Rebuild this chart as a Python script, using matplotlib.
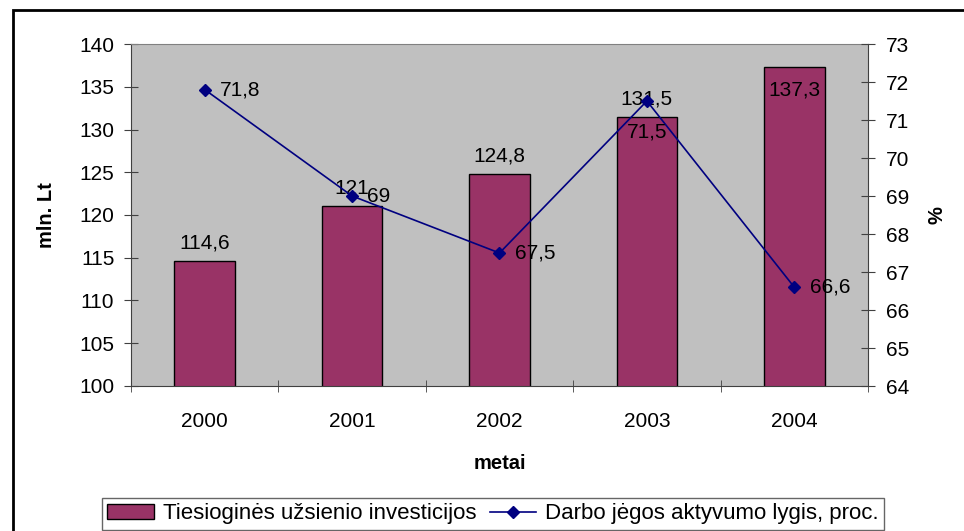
import numpy as np
import matplotlib.pyplot as plt
from matplotlib.patches import Rectangle

plt.rcParams['font.family'] = ['Liberation Sans', 'DejaVu Sans']

metai = ['2000', '2001', '2002', '2003', '2004']
investicijos = [114.6, 121, 124.8, 131.5, 137.3]
aktyvumas = [71.8, 69, 67.5, 71.5, 66.6]
inv_labels = ['114,6', '121', '124,8', '131,5', '137,3']
akt_labels = ['71,8', '69', '67,5', '71,5', '66,6']

fig = plt.figure(figsize=(9.64, 5.31), dpi=100)
ax = fig.add_axes([131 / 964, 1 - 386 / 531, (868 - 131) / 964, (386 - 44) / 531])
ax.set_facecolor('#C0C0C0')

x = np.arange(len(metai))
bars = ax.bar(x, investicijos, width=0.41, color='#993366', edgecolor='black',
              linewidth=1, label='Tiesioginės užsienio investicijos', zorder=2)
ax.set_xlim(-0.5, 4.5)
ax.set_ylim(100, 140)
ax.set_yticks(np.arange(100, 141, 5))
ax.set_xticks(x)
ax.set_xticklabels(metai)
ax.set_xticks(np.arange(-0.5, 5, 1), minor=True)
ax.tick_params(axis='x', which='major', length=0, pad=19, labelsize=15)
ax.tick_params(axis='x', which='minor', length=8, direction='inout', color='#404040')
ax.tick_params(axis='y', length=10, direction='inout', color='#404040', labelsize=15, pad=7)
ax.set_xlabel('metai', fontsize=14.5, fontweight='bold', labelpad=16)
ax.set_ylabel('mln. Lt', fontsize=14.5, fontweight='bold', labelpad=17)
for s in ['left', 'bottom', 'right']:
    ax.spines[s].set_color('#404040')
ax.spines['top'].set_color('#808080')

for i, v in enumerate(investicijos):
    if i == 4:
        ax.annotate(inv_labels[i], (x[i], v), xytext=(0, -23), textcoords='offset points',
                    ha='center', va='bottom', fontsize=15, zorder=5)
    else:
        ax.annotate(inv_labels[i], (x[i], v), xytext=(0, 6), textcoords='offset points',
                    ha='center', va='bottom', fontsize=15, zorder=5)

ax2 = ax.twinx()
ax2.plot(x, aktyvumas, color='#000080', linewidth=1.2, marker='D', markersize=6,
         label='Darbo jėgos aktyvumo lygis, proc.', zorder=3)
ax2.set_ylim(64, 73)
ax2.set_yticks(np.arange(64, 74, 1))
ax2.tick_params(axis='y', length=10, direction='inout', color='#404040', labelsize=15, pad=8)
ax2.set_ylabel('%', fontsize=14.5, fontweight='bold', labelpad=13)
for s in ax2.spines.values():
    s.set_visible(False)

for i, v in enumerate(aktyvumas):
    if i == 3:
        ax2.annotate(akt_labels[i], (x[i], v), xytext=(0, -22), textcoords='offset points',
                     ha='center', va='center', fontsize=15)
    else:
        ax2.annotate(akt_labels[i], (x[i], v), xytext=(11, 0), textcoords='offset points',
                     ha='left', va='center', fontsize=15)

h1, l1 = ax.get_legend_handles_labels()
h2, l2 = ax2.get_legend_handles_labels()
leg = fig.legend(h1 + h2, l1 + l2, loc='lower center', bbox_to_anchor=(0.5115, 1 / 531), ncol=2,
                 fontsize=16, frameon=True, fancybox=False, edgecolor='#404040',
                 handlelength=2.1, columnspacing=0.6, handletextpad=0.4, borderpad=0.25,
                 borderaxespad=0)
leg.get_frame().set_linewidth(1)

fig.patches.append(Rectangle((13 / 964, -0.1), 1.1, 1 - 10 / 531 + 0.1,
                             transform=fig.transFigure, fill=False, edgecolor='black',
                             linewidth=2, clip_on=False))

fig.savefig('out.png', dpi=100)
